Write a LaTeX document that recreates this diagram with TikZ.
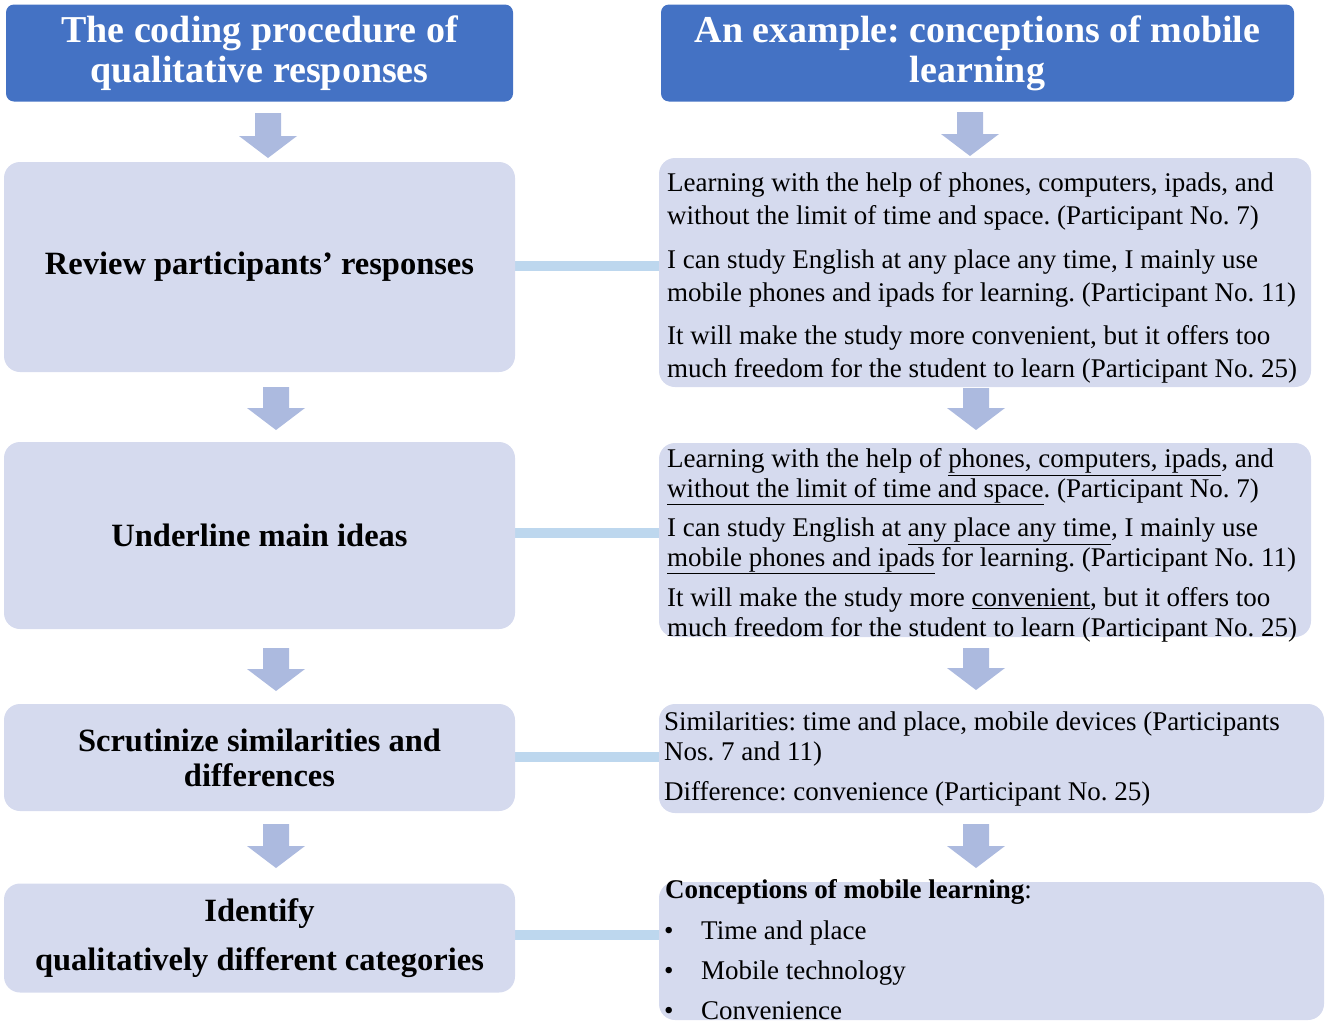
\documentclass[tikz,border=0pt]{standalone}
\usepackage{fontspec}
\setmainfont{Liberation Serif}
\definecolor{hblue}{HTML}{4472C4}
\definecolor{boxfill}{HTML}{D5DAEE}
\definecolor{arrowc}{HTML}{ACBADF}
\definecolor{barblue}{HTML}{BDD7EE}
\newcommand\barrow[3]{\fill[arrowc,shift={(#1,#2)}] (-13,0) -- (13,0) -- (13,#3-22) -- (29,#3-22) -- (0,#3) -- (-29,#3-22) -- (-13,#3-22) -- cycle;}
\frenchspacing
\begin{document}
\begin{tikzpicture}[x=1pt,y=-1pt,
 hdr/.style={fill=hblue, rounded corners=8pt, text=white, font=\bfseries\fontsize{38}{40}\selectfont, align=center, inner sep=0},
 lbox/.style={fill=boxfill, rounded corners=16pt, font=\bfseries\fontsize{32.5}{35}\selectfont, align=center, inner sep=0},
 rbox/.style={fill=boxfill, rounded corners=16pt, inner sep=0},
 rtext/.style={anchor=base west, inner sep=0, align=left, font=\fontsize{27}{32.5}\selectfont},
 rtextb/.style={rtext, font=\fontsize{27}{29.3}\selectfont},
 bar/.style={draw=barblue, line width=10.5pt}]
\useasboundingbox (0,0) rectangle (1328,1023);
% headers
\node[hdr, minimum width=507, minimum height=97] (h1) at (259.5,53) {The coding procedure of\\qualitative responses};
\node[hdr, minimum width=633, minimum height=97] (h2) at (977.5,53) {An example: conceptions of mobile\\learning};
% connector bars
\coordinate (ca) at (515,266);
\coordinate (cb) at (515,533);
\coordinate (cc) at (515,757);
\coordinate (cd) at (515,935);
\coordinate (da) at (660,266);
\coordinate (db) at (660,533);
\coordinate (dc) at (660,757);
\coordinate (dd) at (660,935);
\draw[bar] (ca) -- (da);
\draw[bar] (cb) -- (db);
\draw[bar] (cc) -- (dc);
\draw[bar] (cd) -- (dd);
% left boxes
\node[lbox, minimum width=511, minimum height=210] (A) at (259.5,267) {Review participants’ responses};
\node[lbox, minimum width=511, minimum height=187] (B) at (259.5,535.5) {Underline main ideas};
\node[lbox, minimum width=511, minimum height=107] (C) at (259.5,757.5) {Scrutinize similarities and\\differences};
\node[lbox, minimum width=511, minimum height=109] (D) at (259.5,938) {Identify\\[14pt]qualitatively different categories};
% right boxes
\node[rbox, minimum width=652, minimum height=229] (R1) at (985,272.5) {};
\node[rbox, minimum width=652, minimum height=194] (R2) at (985,540) {};
\node[rbox, minimum width=665, minimum height=109] (R3) at (991.5,758.5) {};
\node[rbox, minimum width=665, minimum height=138] (R4) at (991.5,951) {};
% R1 texts (anchored at the baseline of the last line)
\node[rtext] (t11) at (667,224) {Learning with the help of phones, computers, ipads, and\\without the limit of time and space. (Participant No. 7)};
\node[rtext] (t12) at (667,301) {I can study English at any place any time, I mainly use\\mobile phones and ipads for learning. (Participant No. 11)};
\node[rtext] (t13) at (667,377) {It will make the study more convenient, but it offers too\\much freedom for the student to learn (Participant No. 25)};
% R2 texts
\node[rtextb] (t21) at (667,497) {Learning with the help of \underline{phones, computers, ipads}, and\\\underline{without the limit of time and space}. (Participant No. 7)};
\node[rtextb] (t22) at (667,566) {I can study English at \underline{any place any time}, I mainly use\\\underline{mobile phones and ipads} for learning. (Participant No. 11)};
\node[rtextb] (t23) at (667,636) {It will make the study more \underline{convenient}, but it offers too\\much freedom for the student to learn (Participant No. 25)};
% R3 texts
\node[rtextb] (t31) at (664,760) {Similarities: time and place, mobile devices (Participants\\Nos. 7 and 11)};
\node[rtext] (t32) at (664,800) {Difference: convenience (Participant No. 25)};
% R4 texts
\node[rtext] (t41) at (665,898) {\textbf{Conceptions of mobile learning}:};
\node[rtext] (b1) at (664,939) {•};
\node[rtext] (b2) at (664,979) {•};
\node[rtext] (b3) at (664,1019) {•};
\node[rtext] (t42) at (701,939) {Time and place};
\node[rtext] (t43) at (701,979) {Mobile technology};
\node[rtext] (t44) at (701,1019) {Convenience};
% block arrows
\barrow{268}{113}{45}
\barrow{276}{387}{43}
\barrow{276}{648}{43}
\barrow{276}{824}{44}
\barrow{970}{112}{44}
\barrow{976}{388}{42}
\barrow{976}{648}{42}
\barrow{976}{824}{44}
\end{tikzpicture}
\end{document}
